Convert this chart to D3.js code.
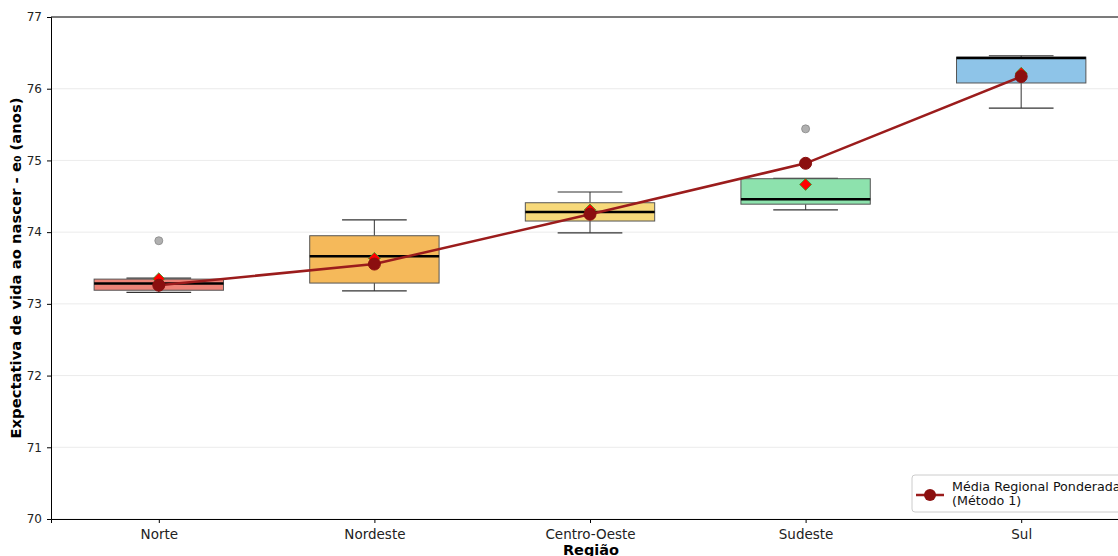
<!DOCTYPE html>
<html>
<head>
<meta charset="utf-8">
<script src="https://cdn.jsdelivr.net/npm/d3@7"></script>
<style>
  body { margin: 0; background: #fff; }
  text { font-family: "DejaVu Sans", sans-serif; }
</style>
</head>
<body>
<svg id="chart" width="1118" height="556"></svg>
<script>
// Regions and box statistics
const regions = ['Norte', 'Nordeste', 'Centro-Oeste', 'Sudeste', 'Sul'];
const whiskerLow = [73.16, 73.18, 73.99, 74.31, 75.73];
const q1 = [73.19, 73.29, 74.155, 74.39, 76.08];
const medians = [73.285, 73.665, 74.28, 74.46, 76.43];
const q3 = [73.345, 73.95, 74.41, 74.745, 76.44];
const whiskerHigh = [73.36, 74.17, 74.56, 74.75, 76.46];
const outliers = [[73.88], [], [], [75.44], []];
const means = [73.35, 73.635, 74.31, 74.665, 76.215];
const weightedMeans = [73.26, 73.555, 74.25, 74.96, 76.17];
const boxColors = ['#ee8377', '#f5b95a', '#f7d97a', '#8de2ad', '#8ec4e8'];
const yTicks = [70, 71, 72, 73, 74, 75, 76, 77];

const svg = d3.select('#chart');
const margin = { left: 51, top: 17, bottom: 37 };
const plotRight = 1129;   // axes run a bit past the window edge
const height = 556;

const x = d3.scaleLinear()
    .domain([-0.5, regions.length - 0.5])
    .range([margin.left, plotRight]);
const y = d3.scaleLinear()
    .domain([70, 77])
    .range([height - margin.bottom, margin.top]);
const boxHalf = (x(0.3) - x(0));

// Grid lines
svg.append('g')
    .selectAll('line')
    .data(yTicks)
    .join('line')
    .attr('x1', margin.left).attr('x2', plotRight)
    .attr('y1', d => y(d)).attr('y2', d => y(d))
    .attr('stroke', '#e6e6e6')
    .attr('stroke-width', 0.8);

// Boxes
const stats = regions.map((r, i) => ({
    i, region: r,
    lo: whiskerLow[i], q1: q1[i], med: medians[i], q3: q3[i], hi: whiskerHigh[i],
    out: outliers[i], mean: means[i], color: boxColors[i]
}));

const boxG = svg.append('g')
    .selectAll('g')
    .data(stats)
    .join('g');

// whiskers
boxG.append('line')
    .attr('x1', d => x(d.i)).attr('x2', d => x(d.i))
    .attr('y1', d => y(d.q3)).attr('y2', d => y(d.hi))
    .attr('stroke', '#555').attr('stroke-width', 1.2);
boxG.append('line')
    .attr('x1', d => x(d.i)).attr('x2', d => x(d.i))
    .attr('y1', d => y(d.q1)).attr('y2', d => y(d.lo))
    .attr('stroke', '#555').attr('stroke-width', 1.2);
// caps
boxG.append('line')
    .attr('x1', d => x(d.i) - boxHalf / 2).attr('x2', d => x(d.i) + boxHalf / 2)
    .attr('y1', d => y(d.hi)).attr('y2', d => y(d.hi))
    .attr('stroke', '#333').attr('stroke-width', 1.2);
boxG.append('line')
    .attr('x1', d => x(d.i) - boxHalf / 2).attr('x2', d => x(d.i) + boxHalf / 2)
    .attr('y1', d => y(d.lo)).attr('y2', d => y(d.lo))
    .attr('stroke', '#333').attr('stroke-width', 1.2);
// box body
boxG.append('rect')
    .attr('x', d => x(d.i) - boxHalf)
    .attr('width', boxHalf * 2)
    .attr('y', d => y(d.q3))
    .attr('height', d => y(d.q1) - y(d.q3))
    .attr('fill', d => d.color)
    .attr('stroke', '#555')
    .attr('stroke-width', 1);
// median
boxG.append('line')
    .attr('x1', d => x(d.i) - boxHalf).attr('x2', d => x(d.i) + boxHalf)
    .attr('y1', d => y(d.med)).attr('y2', d => y(d.med))
    .attr('stroke', '#000').attr('stroke-width', 2.5);
// outliers
boxG.selectAll('circle.out')
    .data(d => d.out.map(v => ({ i: d.i, v })))
    .join('circle')
    .attr('class', 'out')
    .attr('cx', d => x(d.i)).attr('cy', d => y(d.v))
    .attr('r', 4)
    .attr('fill', '#b0b0b0')
    .attr('stroke', '#888')
    .attr('stroke-width', 0.8);
// mean diamonds
boxG.append('path')
    .attr('d', d3.symbol(d3.symbolDiamond2, 90))
    .attr('transform', d => `translate(${x(d.i)},${y(d.mean)})`)
    .attr('fill', '#ff0000')
    .attr('stroke', '#2ca02c')
    .attr('stroke-width', 0.8);

// Weighted mean line
const line = d3.line()
    .x((d, i) => x(i))
    .y(d => y(d));
svg.append('path')
    .datum(weightedMeans)
    .attr('d', line)
    .attr('fill', 'none')
    .attr('stroke', '#9b1c1c')
    .attr('stroke-width', 2.5);
svg.append('g')
    .selectAll('circle')
    .data(weightedMeans)
    .join('circle')
    .attr('cx', (d, i) => x(i))
    .attr('cy', d => y(d))
    .attr('r', 6)
    .attr('fill', '#8b0f0f')
    .attr('stroke', '#8b0f0f');

// Axes
const yAxis = d3.axisLeft(y).tickValues(yTicks).tickSize(4).tickPadding(5).tickFormat(d3.format('d'));
svg.append('g')
    .attr('transform', `translate(${margin.left},0)`)
    .call(yAxis)
    .call(g => g.selectAll('text').attr('font-size', 12).attr('fill', '#222'))
    .call(g => g.select('.domain').attr('stroke', '#000'));

const xAxis = d3.axisBottom(x).tickValues(d3.range(regions.length))
    .tickFormat(i => regions[i]).tickSize(4).tickPadding(6);
svg.append('g')
    .attr('transform', `translate(0,${height - margin.bottom})`)
    .call(xAxis)
    .call(g => g.selectAll('text').attr('font-size', 13.5).attr('fill', '#222'))
    .call(g => g.select('.domain').attr('stroke', '#000'));

// top spine
svg.append('line')
    .attr('x1', margin.left).attr('x2', plotRight)
    .attr('y1', margin.top).attr('y2', margin.top)
    .attr('stroke', '#000');

// Axis titles
svg.append('text')
    .attr('transform', `translate(21,${(margin.top + height - margin.bottom) / 2}) rotate(-90)`)
    .attr('text-anchor', 'middle')
    .attr('font-size', 14.8)
    .attr('font-weight', 'bold')
    .text('Expectativa de vida ao nascer - e₀ (anos)');
svg.append('text')
    .attr('x', (margin.left + plotRight) / 2 + 1)
    .attr('y', 555)
    .attr('text-anchor', 'middle')
    .attr('font-size', 14.5)
    .attr('font-weight', 'bold')
    .text('Região');

// Legend
const lg = svg.append('g').attr('transform', 'translate(912,475)');
lg.append('rect')
    .attr('width', 230).attr('height', 37)
    .attr('rx', 3)
    .attr('fill', '#fff')
    .attr('stroke', '#ccc')
    .attr('stroke-width', 1);
lg.append('line')
    .attr('x1', 4).attr('x2', 32).attr('y1', 20).attr('y2', 20)
    .attr('stroke', '#9b1c1c').attr('stroke-width', 2.5);
lg.append('circle')
    .attr('cx', 18).attr('cy', 20).attr('r', 6)
    .attr('fill', '#8b0f0f');
lg.append('text').attr('x', 40).attr('y', 16).attr('font-size', 12.7).attr('fill', '#111')
    .text('Média Regional Ponderada');
lg.append('text').attr('x', 40).attr('y', 29.5).attr('font-size', 12.7).attr('fill', '#111')
    .text('(Método 1)');
</script>
</body>
</html>
